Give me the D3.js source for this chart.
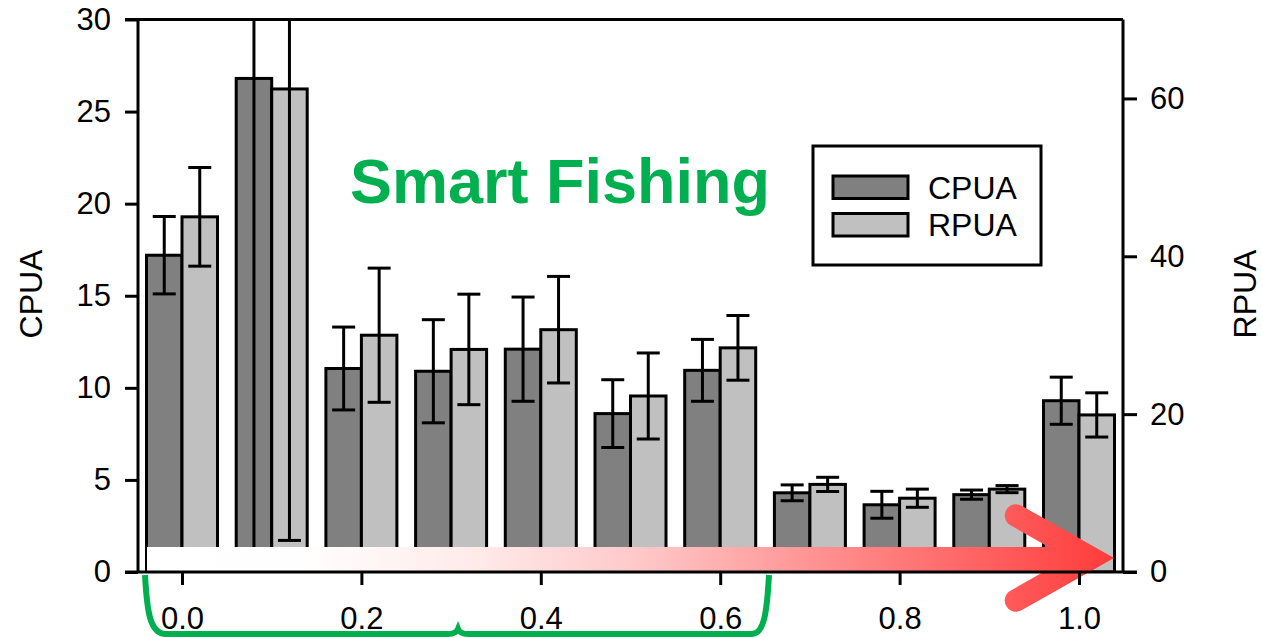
<!DOCTYPE html>
<html><head><meta charset="utf-8">
<script src="https://cdn.jsdelivr.net/npm/d3@7"></script>
<style>
html,body{margin:0;padding:0;background:#fff;}
svg{display:block;font-family:"Liberation Sans",Arial,Helvetica,sans-serif;}
</style></head>
<body>
<svg id="chart" width="1262" height="638"></svg>
<script>
// ---- data ----
const groups = [0.0, 0.1, 0.2, 0.3, 0.4, 0.5, 0.6, 0.7, 0.8, 0.9, 1.0];
const cpua   = [17.2, 26.8, 11.05, 10.9, 12.1, 8.6, 10.95, 4.3, 3.65, 4.2, 9.3];
const cpuaSE = [2.1, 26.0, 2.25, 2.8, 2.83, 1.84, 1.68, 0.43, 0.73, 0.25, 1.28];
const rpua   = [45.0, 61.2, 30.0, 28.2, 30.7, 22.3, 28.4, 11.1, 9.35, 10.5, 19.9];
const rpuaSE = [6.25, 57.2, 8.5, 7.0, 6.75, 5.45, 4.1, 0.9, 1.15, 0.45, 2.8];
const xTicks = [0.0, 0.2, 0.4, 0.6, 0.8, 1.0];
const yLeftTicks = [0, 5, 10, 15, 20, 25, 30];
const yRightTicks = [0, 20, 40, 60];
const seriesNames = ["CPUA", "RPUA"];
const seriesColors = ["#808080", "#c0c0c0"];
const titleText = "Smart Fishing";

// ---- layout ----
const svg = d3.select("#chart");
const L = 138, R = 1123, T = 19.5, B = 572;
const x = d3.scaleLinear().domain([0, 1]).range([182, 1079]);
const yL = d3.scaleLinear().domain([0, 30]).range([B, T]);
const yR = d3.scaleLinear().domain([0, 70]).range([B, T]);
const bw = 35.5, capW = 23, fs = 31;

const defs = svg.append("defs");
defs.append("clipPath").attr("id", "plotclip").append("rect")
  .attr("x", L).attr("y", T).attr("width", R - L).attr("height", B - T);
const grad = defs.append("linearGradient").attr("id", "arrowGrad")
  .attr("gradientUnits", "userSpaceOnUse")
  .attr("x1", 147).attr("x2", 1113).attr("y1", 0).attr("y2", 0);
[[0, "#ffffff"], [0.16, "#fffefe"], [0.34, "#ffeaea"], [0.51, "#ffc8c8"], [0.72, "#ff8a8a"], [1, "#ff3b3b"]]
  .forEach(([o, c]) => grad.append("stop").attr("offset", o).attr("stop-color", c));

// data rows
const rows = groups.map((g, i) => ({g, c: cpua[i], cse: cpuaSE[i], r: rpua[i], rse: rpuaSE[i]}));

const plot = svg.append("g").attr("clip-path", "url(#plotclip)");
// bars
plot.selectAll("rect.cp").data(rows).join("rect").attr("class", "cp")
  .attr("x", d => x(d.g) - bw).attr("width", bw)
  .attr("y", d => yL(d.c)).attr("height", d => B - yL(d.c))
  .attr("fill", seriesColors[0]).attr("stroke", "#000").attr("stroke-width", 3);
plot.selectAll("rect.rp").data(rows).join("rect").attr("class", "rp")
  .attr("x", d => x(d.g)).attr("width", bw)
  .attr("y", d => yR(d.r)).attr("height", d => B - yR(d.r))
  .attr("fill", seriesColors[1]).attr("stroke", "#000").attr("stroke-width", 3);

// error bars
function errBar(cx, yTop, yBot) {
  const g = plot.append("g").attr("stroke", "#000").attr("stroke-width", 3);
  g.append("line").attr("x1", cx).attr("x2", cx).attr("y1", yTop).attr("y2", yBot);
  g.append("line").attr("x1", cx - capW / 2).attr("x2", cx + capW / 2).attr("y1", yTop).attr("y2", yTop);
  g.append("line").attr("x1", cx - capW / 2).attr("x2", cx + capW / 2).attr("y1", yBot).attr("y2", yBot);
}
rows.forEach(d => {
  errBar(x(d.g) - bw / 2, yL(d.c + d.cse), yL(d.c - d.cse));
  errBar(x(d.g) + bw / 2, yR(d.r + d.rse), yR(d.r - d.rse));
});

// gradient arrow
svg.append("rect").attr("x", 147).attr("y", 547).attr("width", 1090 - 147).attr("height", 24)
  .attr("fill", "url(#arrowGrad)");
svg.append("path")
  .attr("d", "M1114,558 L1022,506 A11.2,11.2 0 0 0 1010,525 L1068,558 L1010,591 A11.2,11.2 0 0 0 1022,610 Z")
  .attr("fill", "url(#arrowGrad)");

// axes lines
const ax = svg.append("g").attr("stroke", "#000").attr("stroke-width", 3).attr("fill", "none");
ax.append("line").attr("x1", L).attr("x2", L).attr("y1", T).attr("y2", B);
ax.append("line").attr("x1", R).attr("x2", R).attr("y1", T).attr("y2", B);
ax.append("line").attr("x1", L - 13).attr("x2", R).attr("y1", T).attr("y2", T);
ax.append("line").attr("x1", L - 13).attr("x2", R + 14).attr("y1", B).attr("y2", B);

// left axis
const la = svg.append("g").attr("transform", `translate(${L},0)`)
  .call(d3.axisLeft(yL).tickValues(yLeftTicks).tickSize(13).tickPadding(14).tickFormat(d3.format("d")));
// right axis
const ra = svg.append("g").attr("transform", `translate(${R},0)`)
  .call(d3.axisRight(yR).tickValues(yRightTicks).tickSize(14).tickPadding(13).tickFormat(d3.format("d")));
// bottom axis
const ba = svg.append("g").attr("transform", `translate(0,${B})`)
  .call(d3.axisBottom(x).tickValues(xTicks).tickSize(13).tickPadding(22).tickFormat(d3.format(".1f")));
[la, ra, ba].forEach(a => {
  a.select(".domain").remove();
  a.selectAll(".tick line").attr("stroke", "#000").attr("stroke-width", 3);
  a.selectAll(".tick text").attr("fill", "#000").style("font-size", fs + "px")
    .style("font-family", '"Liberation Sans", Arial, sans-serif');
});

// axis titles
svg.append("text").attr("transform", "translate(42,294) rotate(-90)")
  .attr("text-anchor", "middle").style("font-size", "32px").attr("fill", "#000").text(seriesNames[0]);
svg.append("text").attr("transform", "translate(1256,294) rotate(-90)")
  .attr("text-anchor", "middle").style("font-size", "32px").attr("fill", "#000").text(seriesNames[1]);

// title
svg.append("text").attr("x", 350).attr("y", 203).style("font-size", "63px").style("font-weight", "bold")
  .attr("fill", "#00b050").text(titleText);

// legend
const lg = svg.append("g");
lg.append("rect").attr("x", 813).attr("y", 146).attr("width", 228).attr("height", 119)
  .attr("fill", "#fff").attr("stroke", "#000").attr("stroke-width", 3);
seriesNames.forEach((n, i) => {
  const yy = 176 + i * 37.5;
  lg.append("rect").attr("x", 833).attr("y", yy).attr("width", 75).attr("height", 22.5)
    .attr("fill", seriesColors[i]).attr("stroke", "#000").attr("stroke-width", 3);
  lg.append("text").attr("x", 928).attr("y", yy + 22.5).style("font-size", "32px").attr("fill", "#000").text(n);
});

// green brace
svg.append("path")
  .attr("d", "M145,575 C147,612 150,634 166,634 L448,634 Q456,634 458,629 Q460,634 468,634 L752,634 C764,634 767,612 769,575")
  .attr("fill", "none").attr("stroke", "#00b050").attr("stroke-width", 6);
</script>
</body></html>
